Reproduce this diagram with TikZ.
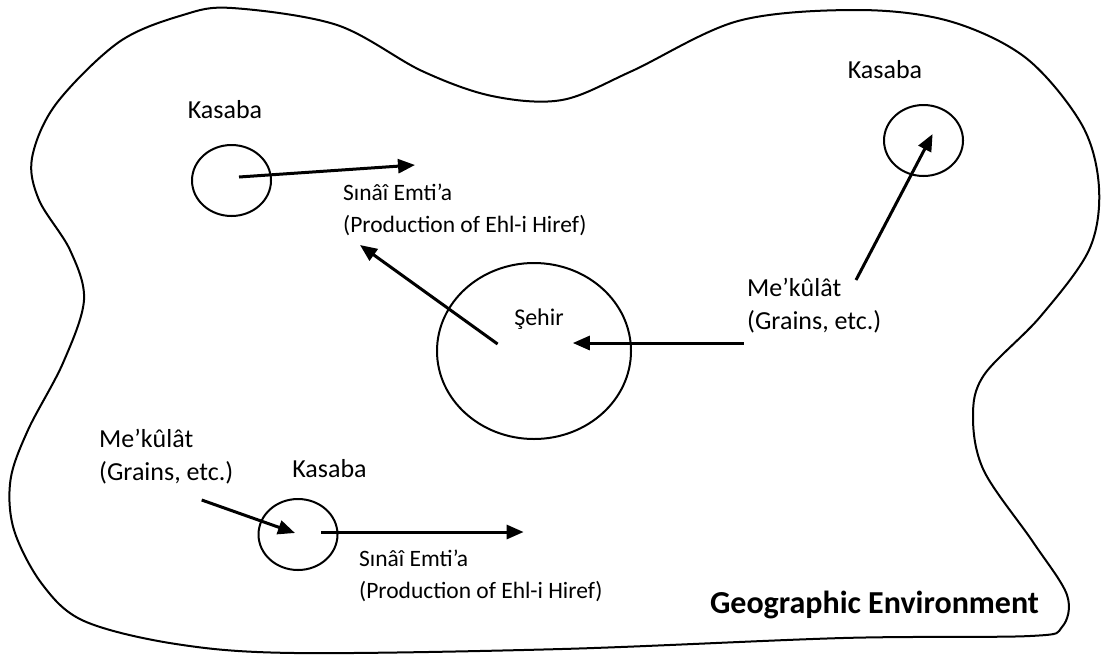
\documentclass[tikz,border=0pt]{standalone}
\usepackage{fontspec}
\setmainfont{Carlito}
\usetikzlibrary{arrows.meta,shapes.geometric}
\begin{document}
\begin{tikzpicture}[x=1pt,y=-1pt,
  town/.style={draw, line width=2pt, ellipse, inner sep=0pt,
               minimum width=79pt, minimum height=71pt},
  city/.style={draw, line width=2pt, ellipse, inner sep=0pt,
               minimum width=194pt, minimum height=176pt},
  flow/.style={line width=3pt, -{Triangle[length=17pt,width=14pt]}},
  txt/.style={font=\fontsize{26}{32}\selectfont, inner sep=0pt},
  twoline/.style={font=\fontsize{26}{32.5}\selectfont, inner sep=0pt,
                  align=left, anchor=base west},
  goods/.style={font=\fontsize{23.5}{32}\selectfont, inner sep=0pt,
                align=left, anchor=base west},
  region/.style={font=\bfseries\fontsize{32}{38}\selectfont, inner sep=0pt}
]
\useasboundingbox (0,0) rectangle (1102,654);
\fill[white] (0,0) rectangle (1102,654);

% outline of the geographic environment
\draw[line width=2pt] plot[smooth cycle, tension=0.55] coordinates {
  (232,8) (337,25) (422,71) (492,96) (562,100) (632,71) (738,21) (857,10)
  (949,21) (1026,58) (1082,125) (1099,188) (1089,250) (1040,317) (984,375)
  (973,417) (984,471) (1033,542) (1067,595) (1062,627) (1030,636)
  (843,638) (562,649) (295,653) (176,644) (84,621) (42,584) (14,530)
  (10.5,480) (28,430) (63,363) (84,300) (70,250) (39,200) (32,158)
  (56,104) (119,42) (183,15)};

% settlements
\node[town] (k1) at (231.5,180.5) {};
\node[town] (k2) at (923.5,140.5) {};
\node[town] (k3) at (298,534.5) {};
\node[city] (sehir) at (534,351) {};

% labels
\node[txt, anchor=base] (k1l) at (225,118) {Kasaba};
\node[txt, anchor=base] (k2l) at (885,78) {Kasaba};
\node[txt, anchor=base] (k3l) at (329.5,477) {Kasaba};
\node[txt, anchor=base, font=\fontsize{24}{30}\selectfont] (sl) at (539,325) {Şehir};

% the base anchor of a two-line label sits on its last line
\node[goods] (g1) at (343,232) {Sınâî Emti’a\\(Production of Ehl-i Hiref)};
\node[goods] (g2) at (359,598) {Sınâî Emti’a\\(Production of Ehl-i Hiref)};
\node[twoline] (m1) at (747,329) {Me’kûlât\\(Grains, etc.)};
\node[twoline] (m2) at (99,480) {Me’kûlât\\(Grains, etc.)};

\node[region, anchor=base] (env) at (874.5,613) {Geographic Environment};

% flow end points
\coordinate (a1s) at (239,177);   \coordinate (a1e) at (415,165);
\coordinate (a2s) at (497.6,344); \coordinate (a2e) at (360,245);
\coordinate (a3s) at (743.6,343); \coordinate (a3e) at (572.8,343);
\coordinate (a4s) at (856,280);   \coordinate (a4e) at (932.6,134);
\coordinate (a5s) at (201.7,500); \coordinate (a5e) at (295,533);
\coordinate (a6s) at (321,532);   \coordinate (a6e) at (523.6,532);

% flows of goods
\draw[flow] (a1s) -- (a1e);
\draw[flow] (a2s) -- (a2e);
\draw[flow] (a3s) -- (a3e);
\draw[flow] (a4s) -- (a4e);
\draw[flow] (a5s) -- (a5e);
\draw[flow] (a6s) -- (a6e);
\end{tikzpicture}
\end{document}
